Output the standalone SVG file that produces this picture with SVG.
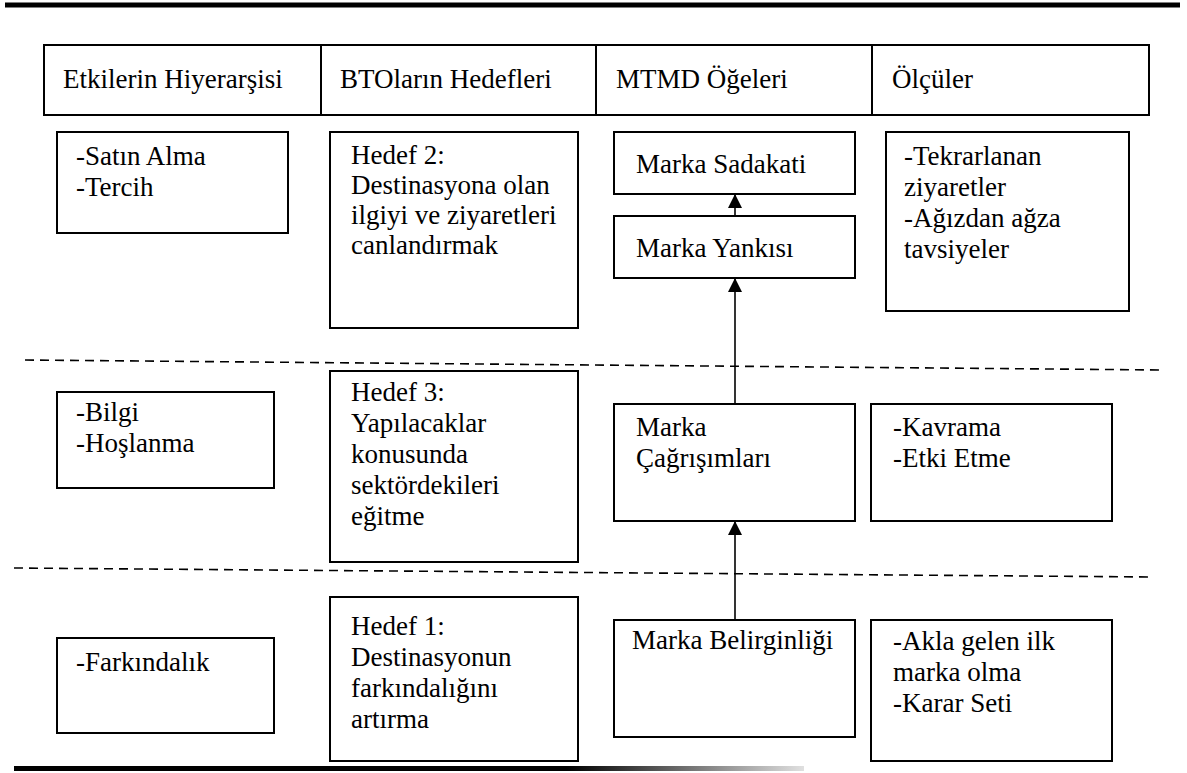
<svg xmlns="http://www.w3.org/2000/svg" width="1187" height="773" viewBox="0 0 1187 773">
  <defs>
    <style>
      .box { fill: #fff; stroke: #000; stroke-width: 2; }
      text { font-family: 'Liberation Serif', 'Times New Roman', serif; font-size: 27px; fill: #000; }
      .dash { stroke: #000; stroke-width: 1.6; stroke-dasharray: 9 6; fill: none; }
      .arrow { stroke: #000; stroke-width: 1.6; fill: none; marker-end: url(#head); }
    </style>
    <marker id="head" markerUnits="userSpaceOnUse" viewBox="0 0 14 14" refX="14" refY="7" markerWidth="14" markerHeight="14" orient="auto">
      <path d="M0,0 L14,7 L0,14 z" fill="#000"/>
    </marker>
    <linearGradient id="rule-fade" x1="0" y1="0" x2="1" y2="0">
      <stop offset="0" stop-color="#000"/>
      <stop offset="0.7" stop-color="#000"/>
      <stop offset="1" stop-color="#e0e0e0"/>
    </linearGradient>
  </defs>

  <rect width="1187" height="773" fill="#fff"/>

  <!-- top and bottom rules -->
  <line x1="5" y1="5" x2="1180" y2="5" stroke="#000" stroke-width="5"/>
  <rect x="14" y="766" width="790" height="5" fill="url(#rule-fade)"/>

  <!-- column headings -->
  <g id="header">
    <rect class="box" x="44" y="45" width="1105" height="70"/>
    <line x1="321" y1="45" x2="321" y2="115" stroke="#000" stroke-width="2"/>
    <line x1="596" y1="45" x2="596" y2="115" stroke="#000" stroke-width="2"/>
    <line x1="872" y1="45" x2="872" y2="115" stroke="#000" stroke-width="2"/>
    <text x="63" y="88">Etkilerin Hiyerarşisi</text>
    <text x="340" y="88">BTOların Hedefleri</text>
    <text x="616" y="88">MTMD Öğeleri</text>
    <text x="892" y="88">Ölçüler</text>
  </g>

  <!-- level separators -->
  <g id="separators">
    <line class="dash" x1="25" y1="360" x2="1163" y2="370"/>
    <line class="dash" x1="14" y1="568" x2="1153" y2="577"/>
  </g>

  <!-- row 1 -->
  <g id="satin-alma">
    <rect class="box" x="57" y="132" width="231" height="101"/>
    <text x="76" y="165">-Satın Alma</text>
    <text x="76" y="196">-Tercih</text>
  </g>
  <g id="hedef-2">
    <rect class="box" x="330" y="132" width="248" height="196"/>
    <text x="351" y="164">Hedef 2:</text>
    <text x="351" y="194">Destinasyona olan</text>
    <text x="351" y="224">ilgiyi ve ziyaretleri</text>
    <text x="351" y="254">canlandırmak</text>
  </g>
  <g id="marka-sadakati">
    <rect class="box" x="614" y="132" width="241" height="62"/>
    <text x="636" y="173">Marka Sadakati</text>
  </g>
  <g id="marka-yankisi">
    <rect class="box" x="614" y="216" width="241" height="62"/>
    <text x="636" y="257">Marka Yankısı</text>
  </g>
  <g id="tekrarlanan">
    <rect class="box" x="886" y="132" width="243" height="179"/>
    <text x="904" y="165">-Tekrarlanan</text>
    <text x="904" y="196">ziyaretler</text>
    <text x="904" y="227">-Ağızdan ağza</text>
    <text x="904" y="258">tavsiyeler</text>
  </g>

  <!-- row 2 -->
  <g id="bilgi">
    <rect class="box" x="57" y="392" width="217" height="96"/>
    <text x="76" y="421">-Bilgi</text>
    <text x="76" y="452">-Hoşlanma</text>
  </g>
  <g id="hedef-3">
    <rect class="box" x="330" y="371" width="248" height="191"/>
    <text x="351" y="401">Hedef 3:</text>
    <text x="351" y="432">Yapılacaklar</text>
    <text x="351" y="463">konusunda</text>
    <text x="351" y="494">sektördekileri</text>
    <text x="351" y="525">eğitme</text>
  </g>
  <g id="marka-cagrisimlari">
    <rect class="box" x="614" y="404" width="241" height="117"/>
    <text x="636" y="436">Marka</text>
    <text x="636" y="467">Çağrışımları</text>
  </g>
  <g id="kavrama">
    <rect class="box" x="871" y="404" width="241" height="117"/>
    <text x="893" y="436">-Kavrama</text>
    <text x="893" y="467">-Etki Etme</text>
  </g>

  <!-- row 3 -->
  <g id="farkindalik">
    <rect class="box" x="57" y="638" width="217" height="95"/>
    <text x="76" y="671">-Farkındalık</text>
  </g>
  <g id="hedef-1">
    <rect class="box" x="330" y="597" width="248" height="164"/>
    <text x="351" y="635">Hedef 1:</text>
    <text x="351" y="666">Destinasyonun</text>
    <text x="351" y="697">farkındalığını</text>
    <text x="351" y="728">artırma</text>
  </g>
  <g id="marka-belirginligi">
    <rect class="box" x="614" y="620" width="241" height="117"/>
    <text x="632" y="649">Marka Belirginliği</text>
  </g>
  <g id="akla-gelen">
    <rect class="box" x="871" y="620" width="241" height="141"/>
    <text x="893" y="650">-Akla gelen ilk</text>
    <text x="893" y="681">marka olma</text>
    <text x="893" y="712">-Karar Seti</text>
  </g>

  <!-- connectors -->
  <g id="connectors">
    <line class="arrow" x1="735" y1="216" x2="735" y2="194"/>
    <line class="arrow" x1="735" y1="404" x2="735" y2="278"/>
    <line class="arrow" x1="735" y1="620" x2="735" y2="521"/>
  </g>
</svg>
